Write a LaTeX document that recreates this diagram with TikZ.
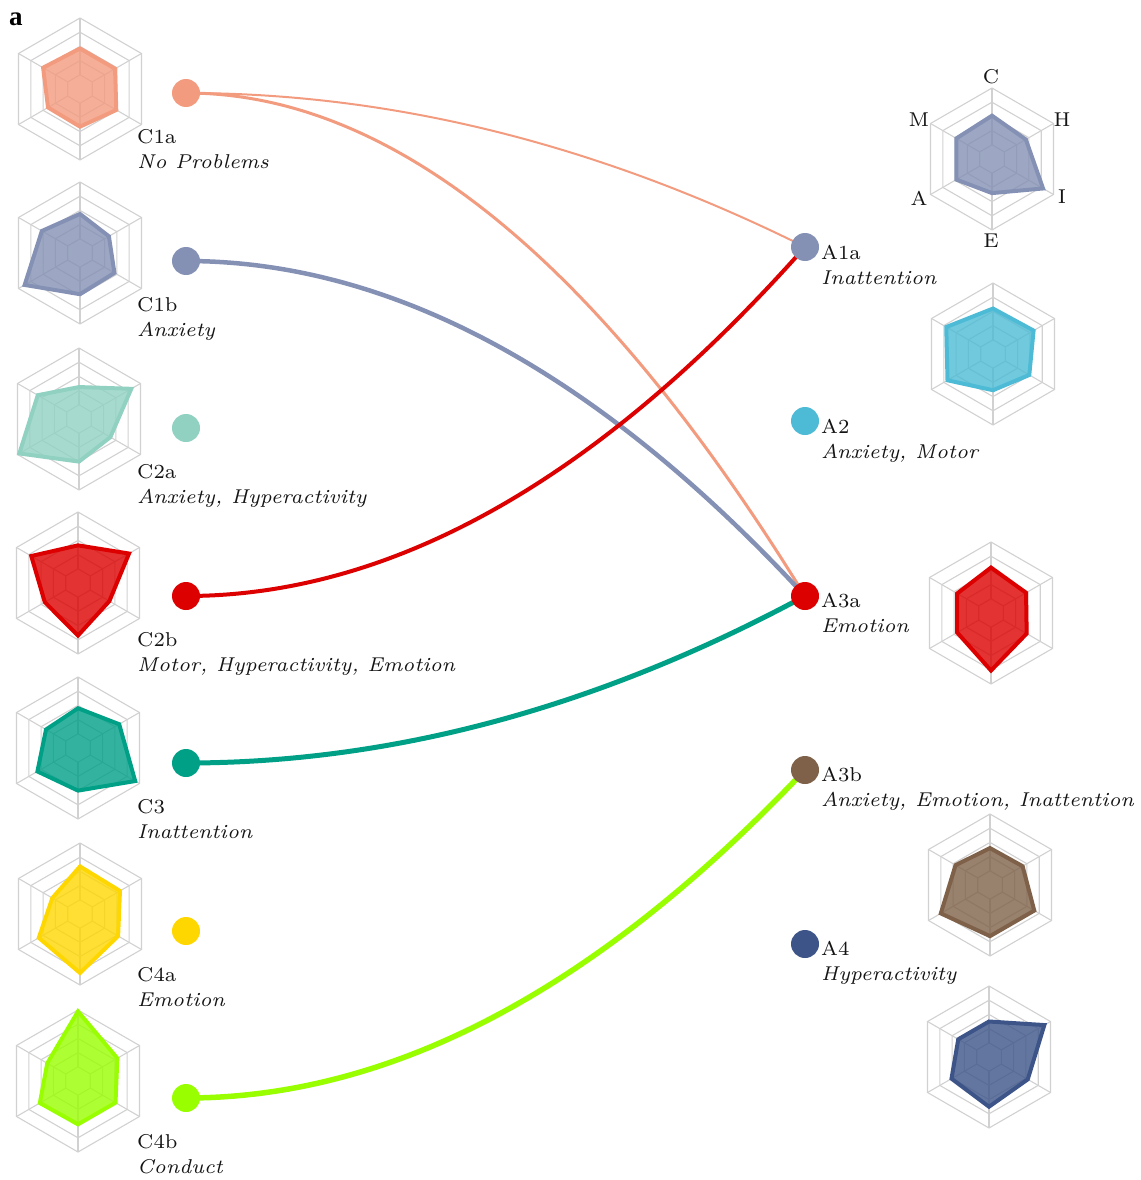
\documentclass[tikz,border=0pt]{standalone}
\usepackage{fontspec}
\newfontfamily\figlabelfont{Liberation Serif}
\usetikzlibrary{calc,backgrounds}
\definecolor{cSalmon}{HTML}{F39B7F}
\definecolor{cSlate}{HTML}{8491B4}
\definecolor{cMint}{HTML}{91D1C2}
\definecolor{cRed}{HTML}{DC0000}
\definecolor{cTeal}{HTML}{00A087}
\definecolor{cGold}{HTML}{FFD700}
\definecolor{cLime}{HTML}{99FF00}
\definecolor{cCyan}{HTML}{4DBBD5}
\definecolor{cBrown}{HTML}{7E6148}
\definecolor{cNavy}{HTML}{3C5488}
\newcommand\txt[1]{\scalebox{2.86}{\fontsize{7}{8.4}\selectfont #1}}
\tikzset{
  gridline/.style={draw=black!18, line width=1.1pt},
  dot/.style={circle, inner sep=0pt, minimum size=28pt, fill=#1, draw=none},
  lab/.style={anchor=base west, inner sep=0pt, text=black!92},
  axlab/.style={inner sep=0pt, text=black!92},
}
\newcommand\radarchart[8]{%
  \begin{scope}[shift={#1}]
    \foreach \k in {0.2,0.4,0.6,0.8,1}{
      \draw[gridline] (-90:\k*71) -- (-30:\k*71) -- (30:\k*71) -- (90:\k*71) -- (150:\k*71) -- (210:\k*71) -- cycle;}
    \foreach \a in {-90,-30,30,90,150,210}{
      \draw[gridline] (\a:0.2*71) -- (\a:71);}
    \draw[draw=#2, fill=#2, fill opacity=0.8, line width=4pt]
      (-90:#3*71) -- (-30:#4*71) -- (30:#5*71) -- (90:#6*71) -- (150:#7*71) -- (210:#8*71) -- cycle;
  \end{scope}}
\newcommand\flow[4]{%
  \path (#1.center) coordinate (fa) (#2.center) coordinate (fb);
  \path ($(fa)!1/3!(fa -| fb)$) coordinate (fc);
  \path ($(fa)!2/3!(fa -| fb)$) coordinate (fx);
  \path ($(fa)!1/3!(fb)$) coordinate (fy);
  \draw[draw=#3, line width=#4] (fa) .. controls (fc) and (fx |- fy) .. (fb);}
\begin{document}
\begin{tikzpicture}[x=1pt,y=-1pt]
\useasboundingbox (0,0) rectangle (1140,1180);

\node[inner sep=0pt, anchor=base west] (panel) at (9,26) {\fontsize{27}{30}\selectfont\figlabelfont\bfseries a};

% radar charts (values: C, H, I, E, A, M)
\radarchart{(80,89)}{cSalmon}{0.57}{0.57}{0.59}{0.53}{0.52}{0.60}
\radarchart{(80,253)}{cSlate}{0.55}{0.47}{0.56}{0.58}{0.90}{0.62}
\radarchart{(79,419)}{cMint}{0.45}{0.85}{0.51}{0.60}{0.97}{0.67}
\radarchart{(78,583)}{cRed}{0.53}{0.83}{0.51}{0.74}{0.54}{0.76}
\radarchart{(78,748)}{cTeal}{0.56}{0.67}{0.93}{0.60}{0.66}{0.52}
\radarchart{(80,914)}{cGold}{0.67}{0.65}{0.62}{0.83}{0.67}{0.45}
\radarchart{(78,1081)}{cLime}{0.98}{0.64}{0.61}{0.61}{0.62}{0.50}
\radarchart{(992,159)}{cSlate}{0.61}{0.55}{0.83}{0.48}{0.58}{0.58}
\radarchart{(993,354)}{cCyan}{0.64}{0.66}{0.59}{0.51}{0.74}{0.76}
\radarchart{(991,613)}{cRed}{0.64}{0.57}{0.58}{0.81}{0.55}{0.55}
\radarchart{(990,885)}{cBrown}{0.52}{0.53}{0.72}{0.72}{0.80}{0.56}
\radarchart{(989,1057)}{cNavy}{0.50}{0.90}{0.63}{0.70}{0.61}{0.50}

% axis labels of the first radar
\node[axlab] (axC) at (991,77) {\txt{C}};
\node[axlab] (axH) at (1062,120) {\txt{H}};
\node[axlab] (axI) at (1062,197) {\txt{I}};
\node[axlab] (axE) at (991,241) {\txt{E}};
\node[axlab] (axA) at (919,198) {\txt{A}};
\node[axlab] (axM) at (919,120) {\txt{M}};

% dots
\node[dot=cSalmon] (C1a) at (186,93) {};
\node[dot=cSlate]  (C1b) at (186,261) {};
\node[dot=cMint]   (C2a) at (186,428) {};
\node[dot=cRed]    (C2b) at (186,596) {};
\node[dot=cTeal]   (C3)  at (186,763) {};
\node[dot=cGold]   (C4a) at (186,931) {};
\node[dot=cLime]   (C4b) at (186,1098) {};
\node[dot=cSlate]  (A1a) at (805,247) {};
\node[dot=cCyan]   (A2)  at (805,421) {};
\node[dot=cRed]    (A3a) at (805,596) {};
\node[dot=cBrown]  (A3b) at (805,770) {};
\node[dot=cNavy]   (A4)  at (805,944) {};

% labels, left
\node[lab] (C1a-id) at (137,143.5) {\txt{C1a}};
\node[lab] (C1a-ds) at (137,168) {\txt{\itshape No Problems}};
\node[lab] (C1b-id) at (137,311.5) {\txt{C1b}};
\node[lab] (C1b-ds) at (137,336) {\txt{\itshape Anxiety}};
\node[lab] (C2a-id) at (137,478.5) {\txt{C2a}};
\node[lab] (C2a-ds) at (137,503) {\txt{\itshape Anxiety, Hyperactivity}};
\node[lab] (C2b-id) at (137,646.5) {\txt{C2b}};
\node[lab] (C2b-ds) at (137,671) {\txt{\itshape Motor, Hyperactivity, Emotion}};
\node[lab] (C3-id)  at (137,813.5) {\txt{C3}};
\node[lab] (C3-ds)  at (137,838) {\txt{\itshape Inattention}};
\node[lab] (C4a-id) at (137,981.5) {\txt{C4a}};
\node[lab] (C4a-ds) at (137,1006) {\txt{\itshape Emotion}};
\node[lab] (C4b-id) at (137,1148.5) {\txt{C4b}};
\node[lab] (C4b-ds) at (137,1173) {\txt{\itshape Conduct}};

% labels, right
\node[lab] (A1a-id) at (821,259) {\txt{A1a}};
\node[lab] (A1a-ds) at (821,284) {\txt{\itshape Inattention}};
\node[lab] (A2-id)  at (821,433) {\txt{A2}};
\node[lab] (A2-ds)  at (821,458) {\txt{\itshape Anxiety, Motor}};
\node[lab] (A3a-id) at (821,607) {\txt{A3a}};
\node[lab] (A3a-ds) at (821,632) {\txt{\itshape Emotion}};
\node[lab] (A3b-id) at (821,781) {\txt{A3b}};
\node[lab] (A3b-ds) at (821,806) {\txt{\itshape Anxiety, Emotion, Inattention}};
\node[lab] (A4-id)  at (821,955) {\txt{A4}};
\node[lab] (A4-ds)  at (821,980) {\txt{\itshape Hyperactivity}};

% connectors
\begin{pgfonlayer}{background}
\flow{C1a}{A1a}{cSalmon}{2pt}
\flow{C1a}{A3a}{cSalmon}{3pt}
\flow{C1b}{A3a}{cSlate}{4.5pt}
\flow{C2b}{A1a}{cRed}{4pt}
\flow{C3}{A3a}{cTeal}{5pt}
\flow{C4b}{A3b}{cLime}{5.5pt}
\end{pgfonlayer}
\end{tikzpicture}
\end{document}
